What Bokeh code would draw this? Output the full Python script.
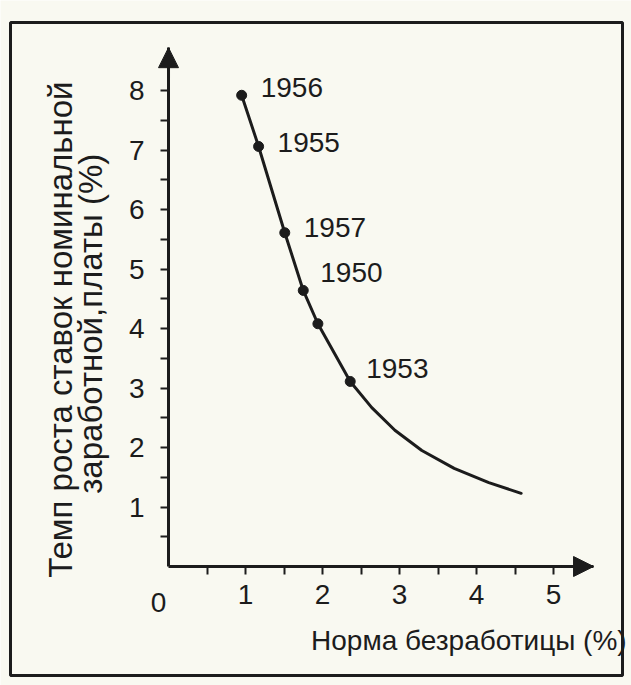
from bokeh.plotting import figure
from bokeh.models import (Range1d, FixedTicker, Label, Arrow, NormalHead,
                          BoxAnnotation, ColumnDataSource)
from bokeh.core.properties import value
from bokeh.embed import file_html
from bokeh.resources import INLINE
import math

# ---------------- data ----------------
dot_x = [0.95, 1.17, 1.51, 1.75, 1.94, 2.36]
dot_y = [7.92, 7.06, 5.61, 4.64, 4.08, 3.11]
dot_years = ["1956", "1955", "1957", "1950", "", "1953"]

tail_x = [2.64, 2.94, 3.29, 3.71, 4.16, 4.58]
tail_y = [2.67, 2.29, 1.95, 1.65, 1.41, 1.23]

x_ticks = [0.5, 1, 1.5, 2, 2.5, 3, 3.5, 4, 4.5, 5]
y_ticks = [0.5, 1, 1.5, 2, 2.5, 3, 3.5, 4, 4.5, 5, 5.5, 6, 6.5, 7, 7.5, 8]

x_title = "Норма безработицы (%)"
y_title_1 = "Темп роста ставок номинальной"
y_title_2 = "заработной,платы (%)"

# ---------------- styles ----------------
INK = "#1c1c1c"
BG = "#f9f9f1"
FONT = "Liberation Sans"
label_dx = [19, 19, 19, 17, 0, 16]
label_dy = [-8, -4, -5, -18, 0, -13]

X_END = 5.52
Y_END = 8.72

p = figure(width=631, height=685, output_backend="svg", toolbar_location=None,
           x_range=Range1d(-2.182, 6.013), y_range=Range1d(-2.0, 9.513),
           min_border=0)
p.title.visible = False
p.background_fill_color = BG
p.border_fill_color = BG
p.outline_line_color = None
p.grid.visible = False

for ax in (p.xaxis[0], p.yaxis[0]):
    ax.fixed_location = 0
    ax.axis_line_color = INK
    ax.axis_line_width = 3
    ax.major_tick_line_color = INK
    ax.major_tick_line_width = 2
    ax.major_tick_out = 8
    ax.major_tick_in = 0
    ax.minor_tick_line_color = None
    ax.major_label_text_font = FONT
    ax.major_label_text_font_size = "28px"
    ax.major_label_text_color = INK

p.xaxis.bounds = (0, X_END)
p.yaxis.bounds = (0, Y_END)
p.xaxis.ticker = FixedTicker(ticks=x_ticks)
p.yaxis.ticker = FixedTicker(ticks=y_ticks)
p.xaxis.major_label_overrides = {t: ("" if t != int(t) else str(int(t))) for t in x_ticks}
p.yaxis.major_label_overrides = {t: ("" if t != int(t) else str(int(t))) for t in y_ticks}
p.xaxis.major_label_standoff = 10
p.yaxis.major_label_standoff = 16

# arrows at the ends of the axes
p.add_layout(Arrow(x_start=0, y_start=8.2, x_end=0, y_end=Y_END,
                   line_color=INK, line_width=3,
                   end=NormalHead(size=20, fill_color=INK, line_color=INK)))
p.add_layout(Arrow(x_start=5.1, y_start=0, x_end=X_END, y_end=0,
                   line_color=INK, line_width=3,
                   end=NormalHead(size=20, fill_color=INK, line_color=INK)))

# curve and dots
p.line(dot_x + tail_x, dot_y + tail_y, line_color=INK, line_width=3,
       line_join="round", line_cap="round")
p.scatter(dot_x, dot_y, size=10, fill_color=INK, line_color=INK)

src = ColumnDataSource(dict(x=dot_x, y=dot_y, t=dot_years, dx=label_dx, dy=label_dy))
p.text("x", "y", text="t", source=src, x_offset="dx", y_offset="dy",
       text_font=value(FONT), text_font_size="28px", text_color=INK,
       text_align="left", text_baseline="middle")

# texts
p.add_layout(Label(x=-0.13, y=-0.6, text="0", text_font=FONT, text_font_size="28px",
                   text_color=INK, text_align="center", text_baseline="middle"))
p.add_layout(Label(x=5.95, y=-1.24, text=x_title, text_font=FONT, text_font_size="28px",
                   text_color=INK, text_align="right", text_baseline="middle"))
p.add_layout(Label(x=-1.40, y=3.98, text=y_title_1, angle=math.pi / 2,
                   text_font=FONT, text_font_size="33px", text_color=INK,
                   text_align="center", text_baseline="middle"))
p.add_layout(Label(x=-1.01, y=4.08, text=y_title_2, angle=math.pi / 2,
                   text_font=FONT, text_font_size="33px", text_color=INK,
                   text_align="center", text_baseline="middle"))

# outer frame
p.add_layout(BoxAnnotation(left=10, right=622, top=22, bottom=675,
                           left_units="canvas", right_units="canvas",
                           top_units="canvas", bottom_units="canvas",
                           fill_alpha=0, line_color=INK, line_alpha=1.0,
                           line_width=3))

open("out.html", "w").write(file_html(p, INLINE))
